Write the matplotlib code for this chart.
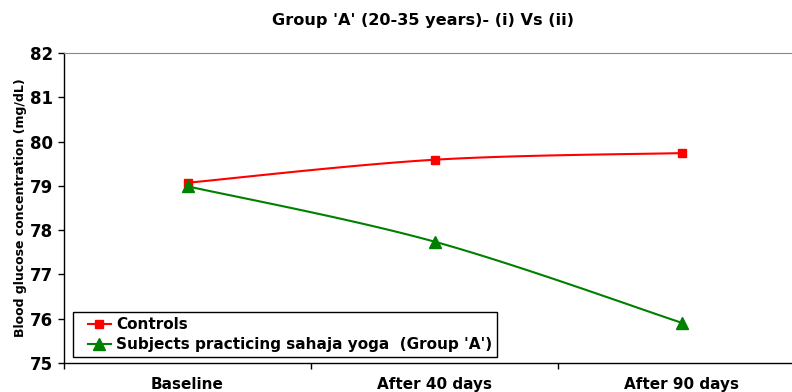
import numpy as np
import matplotlib
matplotlib.use("Agg")
import matplotlib.pyplot as plt
from matplotlib.legend_handler import HandlerLine2D

categories = ["Baseline", "After 40 days", "After 90 days"]
controls = [79.07, 79.59, 79.74]
yoga = [78.99, 77.74, 75.91]
yticks = [75, 76, 77, 78, 79, 80, 81, 82]

plt.rcParams['font.family'] = ['DejaVu Sans']
plt.rcParams['font.weight'] = 'bold'

def smooth(xs, ys, n=40):
    # Catmull-Rom style smoothing (like Excel smoothed line)
    xs = np.asarray(xs, float); ys = np.asarray(ys, float)
    px = np.concatenate([[xs[0]], xs, [xs[-1]]])
    py = np.concatenate([[ys[0]], ys, [ys[-1]]])
    outx, outy = [], []
    for i in range(1, len(px) - 2):
        p0 = np.array([px[i-1], py[i-1]]); p1 = np.array([px[i], py[i]])
        p2 = np.array([px[i+1], py[i+1]]); p3 = np.array([px[i+2], py[i+2]])
        c1 = p1 + (p2 - p0) / 6.0
        c2 = p2 - (p3 - p1) / 6.0
        t = np.linspace(0, 1, n)[:, None]
        pts = (1-t)**3*p1 + 3*(1-t)**2*t*c1 + 3*(1-t)*t**2*c2 + t**3*p2
        outx.extend(pts[:, 0]); outy.extend(pts[:, 1])
    return np.array(outx), np.array(outy)

fig = plt.figure(figsize=(7.92, 3.92), dpi=100)
ax = fig.add_axes([64/792, 1 - 363/392, (805-64)/792, (363-53)/392])

x = np.arange(len(categories))
sx, sy = smooth(x, controls)
ax.plot(sx, sy, color='#ff0000', lw=1.5)
ax.plot(x, controls, ls='none', marker='s', color='#ff0000', ms=5.5)
sx, sy = smooth(x, yoga)
ax.plot(sx, sy, color='#008000', lw=1.5)
ax.plot(x, yoga, ls='none', marker='^', color='#008000', ms=8)

# legend proxies
h1, = ax.plot([], [], color='#ff0000', lw=1.5, marker='s', ms=5.5, label='Controls')
h2, = ax.plot([], [], color='#008000', lw=1.5, marker='^', ms=8,
              label="Subjects practicing sahaja yoga  (Group 'A')")

ax.set_xlim(-0.5, len(categories) - 0.5)
ax.set_ylim(75, 82)
ax.set_yticks(yticks)
ax.set_yticklabels([str(v) for v in yticks], fontsize=12, fontweight='bold')
ax.set_xticks(x)
ax.set_xticklabels(categories, fontsize=11, fontweight='bold')
ax.tick_params(axis='x', which='major', length=0, pad=10)
ax.set_xticks(np.arange(len(categories) + 1) - 0.5, minor=True)
ax.tick_params(axis='x', which='minor', length=4.5, direction='out', width=1)
ax.tick_params(axis='y', length=4.5, direction='out', width=1, pad=3.5)

ax.spines['top'].set_color('#888888')
ax.spines['right'].set_color('#888888')
for s in ['left', 'bottom']:
    ax.spines[s].set_color('black')
    ax.spines[s].set_linewidth(1.0)

ax.set_ylabel('Blood glucose concentration (mg/dL)', fontsize=9, fontweight='bold', labelpad=2)
fig.text(423/792, 1 - 20/392, "Group 'A' (20-35 years)- (i) Vs (ii)", ha='center', va='center',
         fontsize=11.6, fontweight='bold')

hm = {h1: HandlerLine2D(xpad=0.63), h2: HandlerLine2D(xpad=0.63)}
leg = ax.legend(handles=[h1, h2], handler_map=hm,
                loc='upper left', bbox_to_anchor=((73-64)/741, (363-312)/310),
                frameon=True, fancybox=False, edgecolor='black', framealpha=1,
                prop={'weight': 'bold', 'size': 11}, handlelength=2.13, handletextpad=0.33,
                borderpad=0.35, labelspacing=0.3, borderaxespad=0)
leg.get_frame().set_linewidth(1.0)

fig.savefig('out.png', dpi=100)
